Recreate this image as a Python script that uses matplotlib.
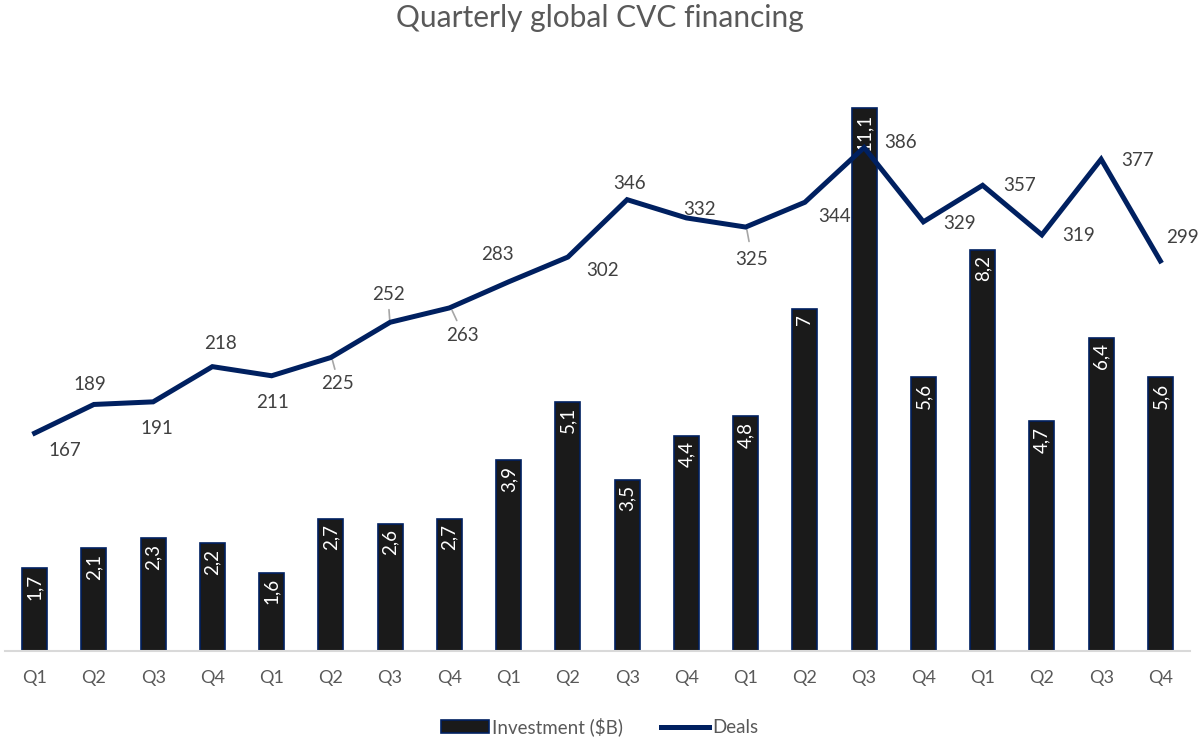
import matplotlib.pyplot as plt
from matplotlib.patches import Patch
from matplotlib.lines import Line2D
import numpy as np

quarters = ['Q1', 'Q2', 'Q3', 'Q4'] * 5
investment = [1.7, 2.1, 2.3, 2.2, 1.6, 2.7, 2.6, 2.7, 3.9, 5.1,
              3.5, 4.4, 4.8, 7.0, 11.1, 5.6, 8.2, 4.7, 6.4, 5.6]
deals = [167, 189, 191, 218, 211, 225, 252, 263, 283, 302,
         346, 332, 325, 344, 386, 329, 357, 319, 377, 299]

# label offsets for the deal values (pixels, +y = up), and which get a leader line
label_offsets = [(30, -17), (-4, 20), (4, -27), (8, 23), (1, -27), (7, -26), (-2, 28),
                 (13, -28), (-11, 27), (35, -13), (2, 16), (13, 8), (6, -32), (30, -14),
                 (36, 5), (36, -2), (37, 0), (37, -1), (36, -1), (22, 23)]
leaders = {5, 6, 7, 12}

plt.rcParams['font.family'] = ['Lato', 'DejaVu Sans']

navy = '#002060'
bar_col = '#1a1a1a'
txt = '#595959'
lab = '#404040'

fig = plt.figure(figsize=(11.99, 7.40), dpi=100)
ax = fig.add_axes([5 / 1199, 89 / 740, 1185 / 1199, 587 / 740])
ax2 = ax.twinx()

x = np.arange(len(investment))
bars = ax.bar(x, investment, width=0.42, color=bar_col, edgecolor=navy, linewidth=1.2, zorder=2)
ax.set_xlim(-0.5, len(x) - 0.5)
ax.set_ylim(0, 12)
ax2.set_ylim(0, 450)

for xi, v in zip(x, investment):
    s = ('%g' % v).replace('.', ',')
    ax.annotate(s, (xi, v), xytext=(0, -4), textcoords='offset points',
                rotation=90, ha='center', va='top', color='white', fontsize=13.5, zorder=3)

ax2.plot(x, deals, color=navy, linewidth=3.6, solid_joinstyle='miter', zorder=4)
for i, (xi, d) in enumerate(zip(x, deals)):
    dx, dy = label_offsets[i]
    ax2.annotate(str(d), (xi, d), xytext=(dx, dy), textcoords='offset pixels',
                 ha='center', va='center', color=lab, fontsize=13.5, zorder=5)
    if i in leaders:
        ax2.annotate('', (xi + dx / 59.25 * 0.12, d), xytext=(dx * 0.45, dy * 0.45),
                     textcoords='offset pixels',
                     arrowprops=dict(arrowstyle='-', color='#a6a6a6', lw=1.2, shrinkA=0, shrinkB=2))

ax.set_xticks(x)
ax.set_xticklabels(quarters, color=txt, fontsize=13)
ax.tick_params(axis='x', length=0, pad=14)
ax.set_yticks([])
ax2.set_yticks([])
for a in (ax, ax2):
    for side in ('top', 'right', 'left', 'bottom'):
        a.spines[side].set_visible(False)
ax.spines['bottom'].set_visible(True)
ax.spines['bottom'].set_color('#d9d9d9')
ax.spines['bottom'].set_linewidth(1.5)
ax.patch.set_visible(False)

fig.text(0.5, 1 - 18 / 740, 'Quarterly global CVC financing', ha='center', va='center',
         color=txt, fontsize=21.5)

handles = [Patch(facecolor=bar_col, edgecolor=navy, linewidth=1.2),
           Line2D([0], [0], color=navy, linewidth=3.6)]
fig.legend(handles, ['Investment ($B)', 'Deals'], loc='center', bbox_to_anchor=(0.5, 1 - 727 / 740),
           ncol=2, frameon=False, fontsize=13.5, labelcolor=txt, handlelength=2.6,
           handleheight=0.7, handletextpad=0.15, columnspacing=2.0)

fig.savefig('out.png', dpi=100)
